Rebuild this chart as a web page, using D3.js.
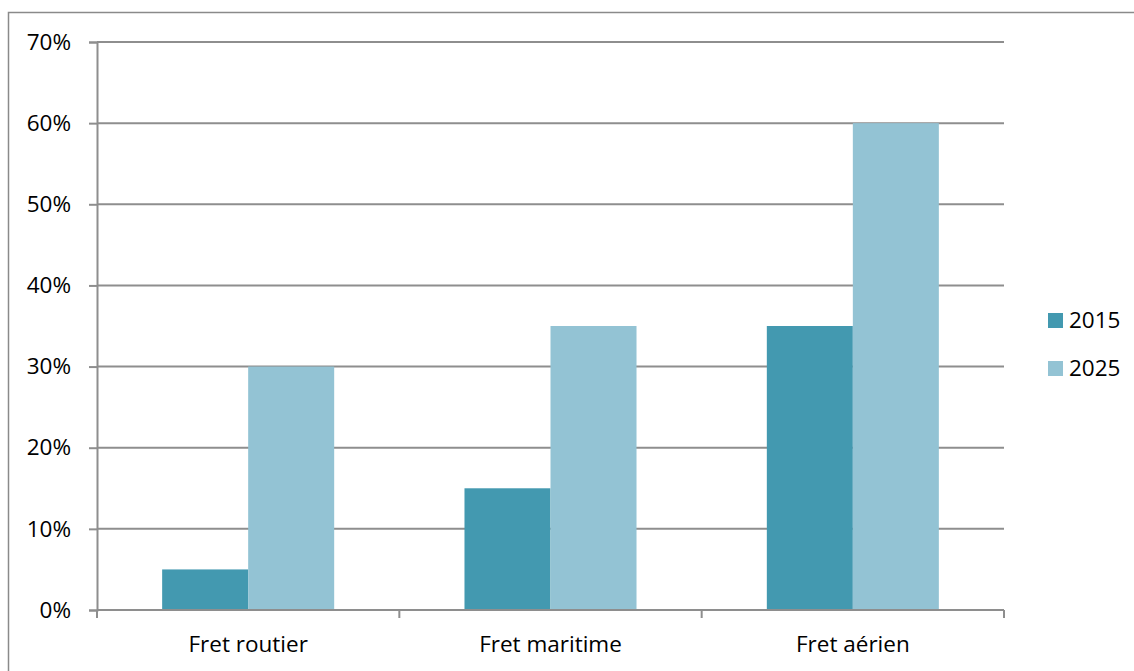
<!DOCTYPE html>
<html>
<head>
<meta charset="utf-8">
<script src="https://cdn.jsdelivr.net/npm/d3@7"></script>
<style>
  html, body { margin: 0; padding: 0; background: #ffffff; }
  svg { display: block; }
  text { font-family: "Open Sans", "Noto Sans", sans-serif; fill: #000; }
</style>
</head>
<body>
<svg id="chart" width="1134" height="671"></svg>
<script>
// Freight categories and shares per year
const categories = ["Fret routier", "Fret maritime", "Fret aérien"];
const years = ["2015", "2025"];
const values2015 = [0.05, 0.15, 0.35];
const values2025 = [0.30, 0.35, 0.60];
const yTicks = [0, 0.1, 0.2, 0.3, 0.4, 0.5, 0.6, 0.7];
const colors = ["#4399b0", "#93c3d4"];

const svg = d3.select("#chart");
const plot = { left: 97, right: 1004, top: 42, bottom: 610 };
const fontSize = "22.5px";

// outer frame
svg.append("rect")
  .attr("x", 8.5).attr("y", 12.5)
  .attr("width", 1200).attr("height", 700)
  .attr("fill", "none").attr("stroke", "#8a8a8a").attr("stroke-width", 1.5);

const x0 = d3.scaleBand()
  .domain(categories)
  .range([plot.left, plot.right])
  .paddingInner(0.431)
  .paddingOuter(0.2155);

const x1 = d3.scaleBand()
  .domain(years)
  .range([0, x0.bandwidth()]);

const y = d3.scaleLinear()
  .domain([0, 0.7])
  .range([plot.bottom, plot.top]);

// horizontal gridlines
svg.append("g")
  .selectAll("line")
  .data(yTicks.filter(d => d > 0))
  .join("line")
  .attr("x1", plot.left).attr("x2", plot.right)
  .attr("y1", d => y(d)).attr("y2", d => y(d))
  .attr("stroke", "#8e8e8e").attr("stroke-width", 2);

// bars
const series = [values2015, values2025];
const groups = svg.append("g")
  .selectAll("g")
  .data(categories)
  .join("g")
  .attr("transform", d => `translate(${x0(d)},0)`);

groups.selectAll("rect")
  .data((d, i) => years.map((yr, j) => ({ yr, v: series[j][i], j })))
  .join("rect")
  .attr("x", d => x1(d.yr))
  .attr("width", x1.bandwidth())
  .attr("y", d => y(d.v))
  .attr("height", d => y(0) - y(d.v))
  .attr("fill", d => colors[d.j]);

// y axis
const yAxis = d3.axisLeft(y)
  .tickValues(yTicks)
  .tickFormat(d3.format(".0%"))
  .tickSize(8)
  .tickPadding(18);
const gy = svg.append("g")
  .attr("transform", `translate(${plot.left},0)`)
  .call(yAxis);
gy.select(".domain").attr("stroke", "#8e8e8e").attr("stroke-width", 2);
gy.selectAll(".tick line").attr("stroke", "#8e8e8e").attr("stroke-width", 2);
gy.selectAll(".tick text")
  .style("font-size", fontSize)
  .style("font-family", "'Open Sans', sans-serif")
  .attr("fill", "#000");

// x axis with boundary ticks between categories
const xAxisScale = d3.scaleLinear().domain([0, categories.length]).range([plot.left, plot.right]);
const gx = svg.append("g")
  .attr("transform", `translate(0,${plot.bottom})`);
gx.append("line")
  .attr("x1", plot.left).attr("x2", plot.right)
  .attr("stroke", "#8e8e8e").attr("stroke-width", 2);
gx.selectAll("line.tick")
  .data(d3.range(categories.length + 1))
  .join("line")
  .attr("class", "tick")
  .attr("x1", d => xAxisScale(d)).attr("x2", d => xAxisScale(d))
  .attr("y1", 0).attr("y2", 8)
  .attr("stroke", "#8e8e8e").attr("stroke-width", 2);
gx.selectAll("text")
  .data(categories)
  .join("text")
  .attr("x", d => x0(d) + x0.bandwidth() / 2)
  .attr("y", 42)
  .attr("text-anchor", "middle")
  .style("font-size", fontSize)
  .text(d => d);

// legend
const legend = svg.append("g").attr("transform", "translate(1048,313)");
const items = legend.selectAll("g")
  .data(years)
  .join("g")
  .attr("transform", (d, i) => `translate(0,${i * 48})`);
items.append("rect")
  .attr("width", 15).attr("height", 15)
  .attr("fill", (d, i) => colors[i]);
items.append("text")
  .attr("x", 21).attr("y", 15)
  .style("font-size", fontSize)
  .text(d => d);
</script>
</body>
</html>
